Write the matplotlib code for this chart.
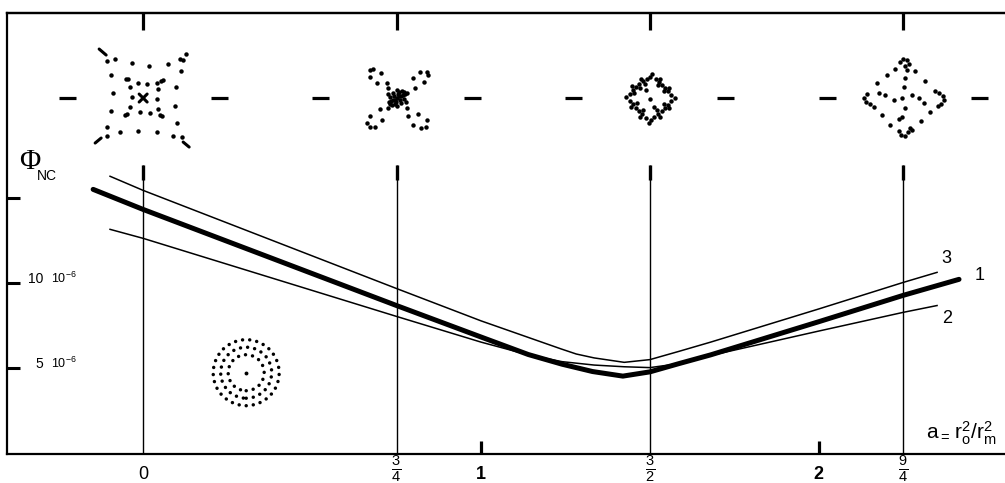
import matplotlib
matplotlib.use("Agg")
import numpy as np
import matplotlib.pyplot as plt
import matplotlib.transforms as mtransforms
from matplotlib.patches import Circle

plt.rcParams['font.family'] = ['Liberation Sans', 'DejaVu Sans']
plt.rcParams['mathtext.fontset'] = 'custom'
plt.rcParams['mathtext.rm'] = 'Liberation Sans'
plt.rcParams['mathtext.it'] = 'Liberation Sans'
plt.rcParams['mathtext.bf'] = 'Liberation Sans:bold'

# ---------------- data ----------------
# Phi_NC (units of 1e-6) versus a = r0^2 / rm^2
a_curve1 = [-0.148, 0.0, 0.75, 1.0, 1.14, 1.24, 1.33, 1.42, 1.5, 1.585, 1.68, 2.0, 2.25, 2.415]
phi_curve1 = [15.53, 14.35, 8.7, 6.85, 5.82, 5.25, 4.82, 4.55, 4.8, 5.28, 5.8, 7.75, 9.3, 10.24]

a_curve2 = [-0.098, 0.0, 0.75, 1.0, 1.14, 1.24, 1.335, 1.424, 1.5, 1.585, 1.67, 2.0, 2.25, 2.35]
phi_curve2 = [13.18, 12.65, 8.06, 6.55, 5.8, 5.4, 5.2, 5.1, 5.05, 5.28, 5.72, 7.2, 8.3, 8.7]

a_curve3 = [-0.098, 0.0, 0.75, 1.0, 1.237, 1.282, 1.335, 1.424, 1.5, 1.585, 1.68, 2.0, 2.25, 2.35]
phi_curve3 = [16.3, 15.47, 9.7, 7.8, 6.15, 5.85, 5.62, 5.36, 5.52, 6.0, 6.55, 8.5, 10.06, 10.65]

curve_names = ['1', '2', '3']

x_tick_values = [0, 0.75, 1, 1.5, 2, 2.25]
x_tick_labels = ['0', r'$\frac{3}{4}$', '1', r'$\frac{3}{2}$', '2', r'$\frac{9}{4}$']
y_tick_values = [5, 10, 15]
y_tick_labels = ['5', '10', '']
y_unit_label = r'$\mathregular{10^{-6}}$'

# special values of a where ion patterns are shown
pattern_a = [0, 0.75, 1.5, 2.25]
pattern_phi = 20.9
circle_a, circle_phi = 0.305, 4.75

# ion patterns: dot offsets in pixels (dx, dy up) around each pattern centre
pattern_dots = [
    [(-36, 37), (-28, 39), (-11, 35), (6, 32), (25, 34), (37, 39), (43, 44), (40, 38),
     (-32, 23), (-30, 5), (-32, -13), (-36, -29),
     (38, 27), (33, 11), (32, -8), (34, -25),
     (-36, -38), (-23, -34), (-5, -33), (14, -34), (30, -38), (39, -39),
     (-15, 19), (-5, 15), (4, 14), (14, 15), (20, 18), (-13, 11), (15, 9),
     (-11, 1), (14, -1), (-13, -9), (15, -11), (-18, -17), (-3, -14), (7, -15), (19, -18),
     (-17, 19), (18, 17), (-16, -16), (17, -17)],
    [(-27, 28), (-24, 29), (-16, 25), (-27, 21), (-20, 15), (-10, 15), (-9, 10),
     (23, 26), (30, 26), (31, 23), (16, 20), (27, 16), (18, 10), (10, 5),
     (-17, -11), (-27, -18), (-15, -22), (-30, -25), (-27, -29), (-22, -29), (-9, -10),
     (10, -10), (11, -18), (21, -16), (30, -22), (16, -27), (24, -30), (29, -29),
     (0, 0), (4, 2), (-4, -2), (7, -1), (-7, 1), (2, 6), (-2, -6), (4, -5), (-4, 5),
     (8, 4), (-8, -4), (0, 8), (0, -8), (5, 7), (-5, -7), (9, -4), (-9, 4),
     (2, 2), (-2, -2), (6, 3), (-6, -3), (3, -2), (-3, 2), (1, 4), (-1, -4), (7, 6), (-7, -6)],
    [(-20, 4), (-17, 8), (-14, 11), (-11, 14), (-7, 17), (-3, 19), (0, 21), (-16, 5), (-10, 10), (-5, 14),
     (6, 19), (9, 16), (12, 13), (15, 10), (18, 7), (21, 3), (8, 13), (14, 7),
     (21, -3), (18, -7), (15, -10), (12, -13), (8, -16), (4, -19), (1, -22), (14, -6), (7, -12),
     (-4, -20), (-8, -16), (-11, -13), (-14, -10), (-17, -6), (-20, -3), (-13, -5), (-7, -12),
     (2, 24), (-1, -25), (25, 0), (-24, 1), (-4, 8), (0, -1), (4, -9),
     (-18, 12), (-9, 19), (10, 19), (19, 10), (19, -10), (10, -19), (-10, -19), (-19, -9)],
    [(-3, 36), (0, 39), (4, 38), (6, 34), (2, 32),
     (-36, 4), (-39, 0), (-37, -4), (-33, -6),
     (36, 5), (40, 2), (41, -2), (38, -6), (35, -8),
     (-4, -33), (-2, -37), (2, -38), (5, -34), (7, -30),
     (-16, 23), (-26, 15), (-8, 29), (12, 27), (22, 17), (32, 7),
     (-21, -17), (-13, -27), (-29, -9), (27, -14), (18, -23), (9, -32),
     (4, 28), (2, 20), (1, 11), (-1, 0), (2, -10), (-1, -19), (-4, -21),
     (-24, 5), (-18, 3), (-9, -2), (9, 3), (16, 0), (21, -5)],
]
# short elongated strokes (pixels) in the first pattern
pattern1_strokes = [((-44, 49), (-37, 43)), ((-48, -45), (-42, -40)),
                    ((40, -44), (46, -49)), ((-4, 4), (4, -4)), ((-4, -4), (4, 4))]

ring_radii_px = [33, 25.5, 18]

# ---------------- figure ----------------
fig = plt.figure(figsize=(10.05, 4.83), dpi=100)
ax = fig.add_axes([7 / 1005, 29.5 / 483, 998 / 1005, 440.5 / 483])
ax.set_autoscale_on(False)
ax.set_xlim(-0.4030, 2.5511)
ax.set_ylim(0, 25.9)

for side in ['left', 'top', 'bottom']:
    ax.spines[side].set_linewidth(1.6)
ax.spines['right'].set_visible(False)

# curves
ax.plot(a_curve1, phi_curve1, color='k', lw=3.6, solid_capstyle='round', solid_joinstyle='round')
ax.plot(a_curve2, phi_curve2, color='k', lw=1.1, solid_joinstyle='round')
ax.plot(a_curve3, phi_curve3, color='k', lw=1.1, solid_joinstyle='round')

label_offsets = {'1': (15, 3), '2': (7, -9), '3': (7, 10)}
for name, xs, ys in zip(curve_names, [a_curve1, a_curve2, a_curve3],
                        [phi_curve1, phi_curve2, phi_curve3]):
    ax.annotate(name, (xs[-1], ys[-1]), xytext=label_offsets[name], textcoords='offset points',
                ha='center', va='center', fontsize=13)

# vertical lines at special a values
ax.vlines(pattern_a, 0, 16.97, color='k', lw=1.0)
ax.vlines(pattern_a, 16.1, 16.97, color='k', lw=2.4)

# dashes on the pattern row
gap = 76 / 337.5
half = 8.5 / 337.5
for c in pattern_a:
    ax.hlines([pattern_phi, pattern_phi], [c - gap - half, c + gap - half],
              [c - gap + half, c + gap + half], color='k', lw=2.3)


def px_trans(cx, cy):
    return mtransforms.Affine2D().scale(fig.dpi / 100.0) + \
        mtransforms.ScaledTranslation(cx, cy, ax.transData)


for c, dots in zip(pattern_a, pattern_dots):
    tr = px_trans(c, pattern_phi)
    dx = [d[0] for d in dots]
    dy = [d[1] for d in dots]
    ax.plot(dx, dy, 'o', ms=3.2, mew=0, color='k', transform=tr, clip_on=False)

tr1 = px_trans(pattern_a[0], pattern_phi)
for (p, q) in pattern1_strokes:
    ax.plot([p[0], q[0]], [p[1], q[1]], color='k', lw=2.2, solid_capstyle='round', transform=tr1)

# concentric ring pattern
trc = px_trans(circle_a, circle_phi)
for r in ring_radii_px:
    ax.add_patch(Circle((0, 0), r, transform=trc, fill=False, lw=2.5, color='k',
                        linestyle=(0, (0.01, 2.05)), capstyle='round'))
ax.plot([0], [0], 'o', ms=2.8, mew=0, color='k', transform=trc)

# x ticks (labels drawn as texts so each can sit at its own height)
ax.set_xticks(x_tick_values, ['' for _ in x_tick_values])
ax.tick_params(axis='x', which='major', length=0)
ax.xaxis.remove_overlapping_locs = False
ax.set_xticks([1, 2], minor=True)
ax.tick_params(axis='x', which='minor', direction='in', length=9.5, width=2.3)
xblend = mtransforms.blended_transform_factory(ax.transData, fig.transFigure)
for v, l in zip(x_tick_values, x_tick_labels):
    if l.startswith('$'):
        ax.text(v, 1 - 468.5 / 483, l, transform=xblend, fontsize=15, ha='center', va='center',
                clip_on=False)
    else:
        ax.text(v, 1 - 474.5 / 483, l, transform=xblend, fontsize=13, ha='center', va='center',
                fontweight='bold' if l in ('1', '2') else 'normal', clip_on=False)

# y ticks
ax.set_yticks(y_tick_values, y_tick_labels)
ax.tick_params(axis='y', direction='in', length=9, width=2.2, pad=-26, labelsize=10)
for lab in ax.get_yticklabels():
    lab.set_verticalalignment('baseline')
blend = mtransforms.blended_transform_factory(ax.transAxes, ax.transData)
for v, l in zip(y_tick_values, y_tick_labels):
    if l:
        ax.text(44 / 998, v, y_unit_label, transform=blend, fontsize=9, ha='left', va='baseline')

# top ticks
sec = ax.secondary_xaxis('top')
sec.set_xticks(pattern_a, ['' for _ in pattern_a])
sec.tick_params(direction='in', length=12, width=2.3)
sec.spines['top'].set_linewidth(1.6)

# axis titles
fig.text(19 / 1005, 1 - 162 / 483, 'Φ', family='Liberation Serif', fontsize=21,
         ha='left', va='center')
fig.text(37 / 1005, 1 - 176 / 483, 'NC', fontsize=10, ha='left', va='center')
fig.text(926 / 1005, 1 - 439 / 483, r'$\mathregular{a_{=}\,r_o^2/r_m^2}$', fontsize=15,
         ha='left', va='baseline')

fig.savefig('out.png', dpi=100)
